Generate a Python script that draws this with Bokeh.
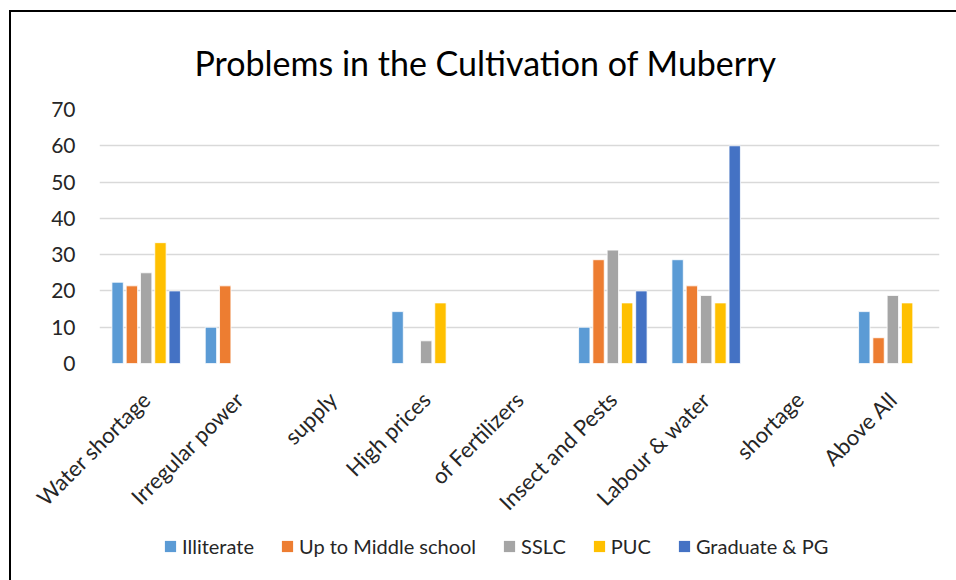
from bokeh.plotting import figure
from bokeh.models import ColumnDataSource, FactorRange, Legend, LegendItem
from bokeh.layouts import column
from bokeh.transform import dodge
from bokeh.embed import file_html
from bokeh.resources import INLINE
import math

categories = ["Water shortage", "Irregular power", "supply", "High prices",
              "of Fertilizers", "Insect and Pests", "Labour & water",
              "shortage", "Above All"]

illiterate = [22.4, 10.0, 0, 14.3, 0, 10.0, 28.6, 0, 14.3]
middle_school = [21.4, 21.4, 0, 0, 0, 28.6, 21.4, 0, 7.1]
sslc = [25.0, 0, 0, 6.25, 0, 31.25, 18.75, 0, 18.75]
puc = [33.3, 0, 0, 16.7, 0, 16.7, 16.7, 0, 16.7]
graduate_pg = [20.0, 0, 0, 0, 0, 20.0, 60.0, 0, 0]

series_names = ["Illiterate", "Up to Middle school", "SSLC", "PUC", "Graduate & PG"]
series_keys = ["ill", "mid", "sslc", "puc", "grad"]
colors = ["#5B9BD5", "#ED7D31", "#A5A5A5", "#FFC000", "#4472C4"]
y_ticks = [0, 10, 20, 30, 40, 50, 60, 70]

source = ColumnDataSource(dict(cat=categories, ill=illiterate, mid=middle_school,
                               sslc=sslc, puc=puc, grad=graduate_pg))

FONT = "Lato"
TEXT = "#262626"

# main chart
p = figure(x_range=FactorRange(*categories, range_padding=0), y_range=(0, 70),
           width=945, height=518, output_backend="svg", toolbar_location=None,
           min_border_left=88, min_border_right=17, min_border_top=97,
           min_border_bottom=167)

p.title.text = "Problems in the Cultivation of Muberry"
p.title.align = "left"
p.title.offset = 95
p.title.text_font = FONT
p.title.text_font_size = "34px"
p.title.text_font_style = "normal"
p.title.text_color = "#000000"
p.title.standoff = 54

offsets = [-0.306, -0.153, 0.0, 0.153, 0.306]
for key, col, off in zip(series_keys, colors, offsets):
    p.vbar(x=dodge("cat", off, range=p.x_range), top=key, width=0.122,
           source=source, fill_color=col, line_color="white", line_width=0.8)

p.yaxis.ticker = y_ticks
p.yaxis.axis_line_color = None
p.yaxis.major_tick_line_color = None
p.yaxis.minor_tick_line_color = None
p.yaxis.major_label_text_font = FONT
p.yaxis.major_label_text_font_size = "21px"
p.yaxis.major_label_text_color = TEXT
p.yaxis.major_label_standoff = 18

p.xaxis.axis_line_color = None
p.xaxis.major_tick_line_color = None
p.xaxis.major_label_orientation = math.pi / 4
p.xaxis.major_label_text_font = FONT
p.xaxis.major_label_text_font_size = "22px"
p.xaxis.major_label_text_color = TEXT
p.xaxis.major_label_standoff = 26

p.xgrid.grid_line_color = None
p.ygrid.grid_line_color = "#D9D9D9"
p.ygrid.grid_line_width = 1.5
p.outline_line_color = None

# legend strip underneath; its swatch renderers sit outside the visible range
lg = figure(width=945, height=50, output_backend="svg", toolbar_location=None,
            x_range=(0, 1), y_range=(0, 1), x_axis_location=None,
            y_axis_location=None, min_border=0)
lg.grid.visible = False
lg.outline_line_color = None
items = []
for name, col in zip(series_names, colors):
    r = lg.quad(left=[-10], right=[-9], bottom=[-10], top=[-9],
                fill_color=col, line_color=None)
    items.append(LegendItem(label=name, renderers=[r]))
legend = Legend(items=items, orientation="horizontal", location=(64, 22),
                label_text_font=FONT, label_text_font_size="20px",
                label_text_color=TEXT, glyph_width=14, glyph_height=14,
                spacing=26, label_standoff=5, border_line_color=None,
                background_fill_alpha=0, margin=0, padding=0)
lg.add_layout(legend, "center")

layout = column(p, lg, spacing=0, margin=(10, 0, 0, 9),
                styles={"border-top": "2px solid black",
                        "border-left": "2px solid black"})

open("out.html", "w").write(file_html(layout, INLINE))
